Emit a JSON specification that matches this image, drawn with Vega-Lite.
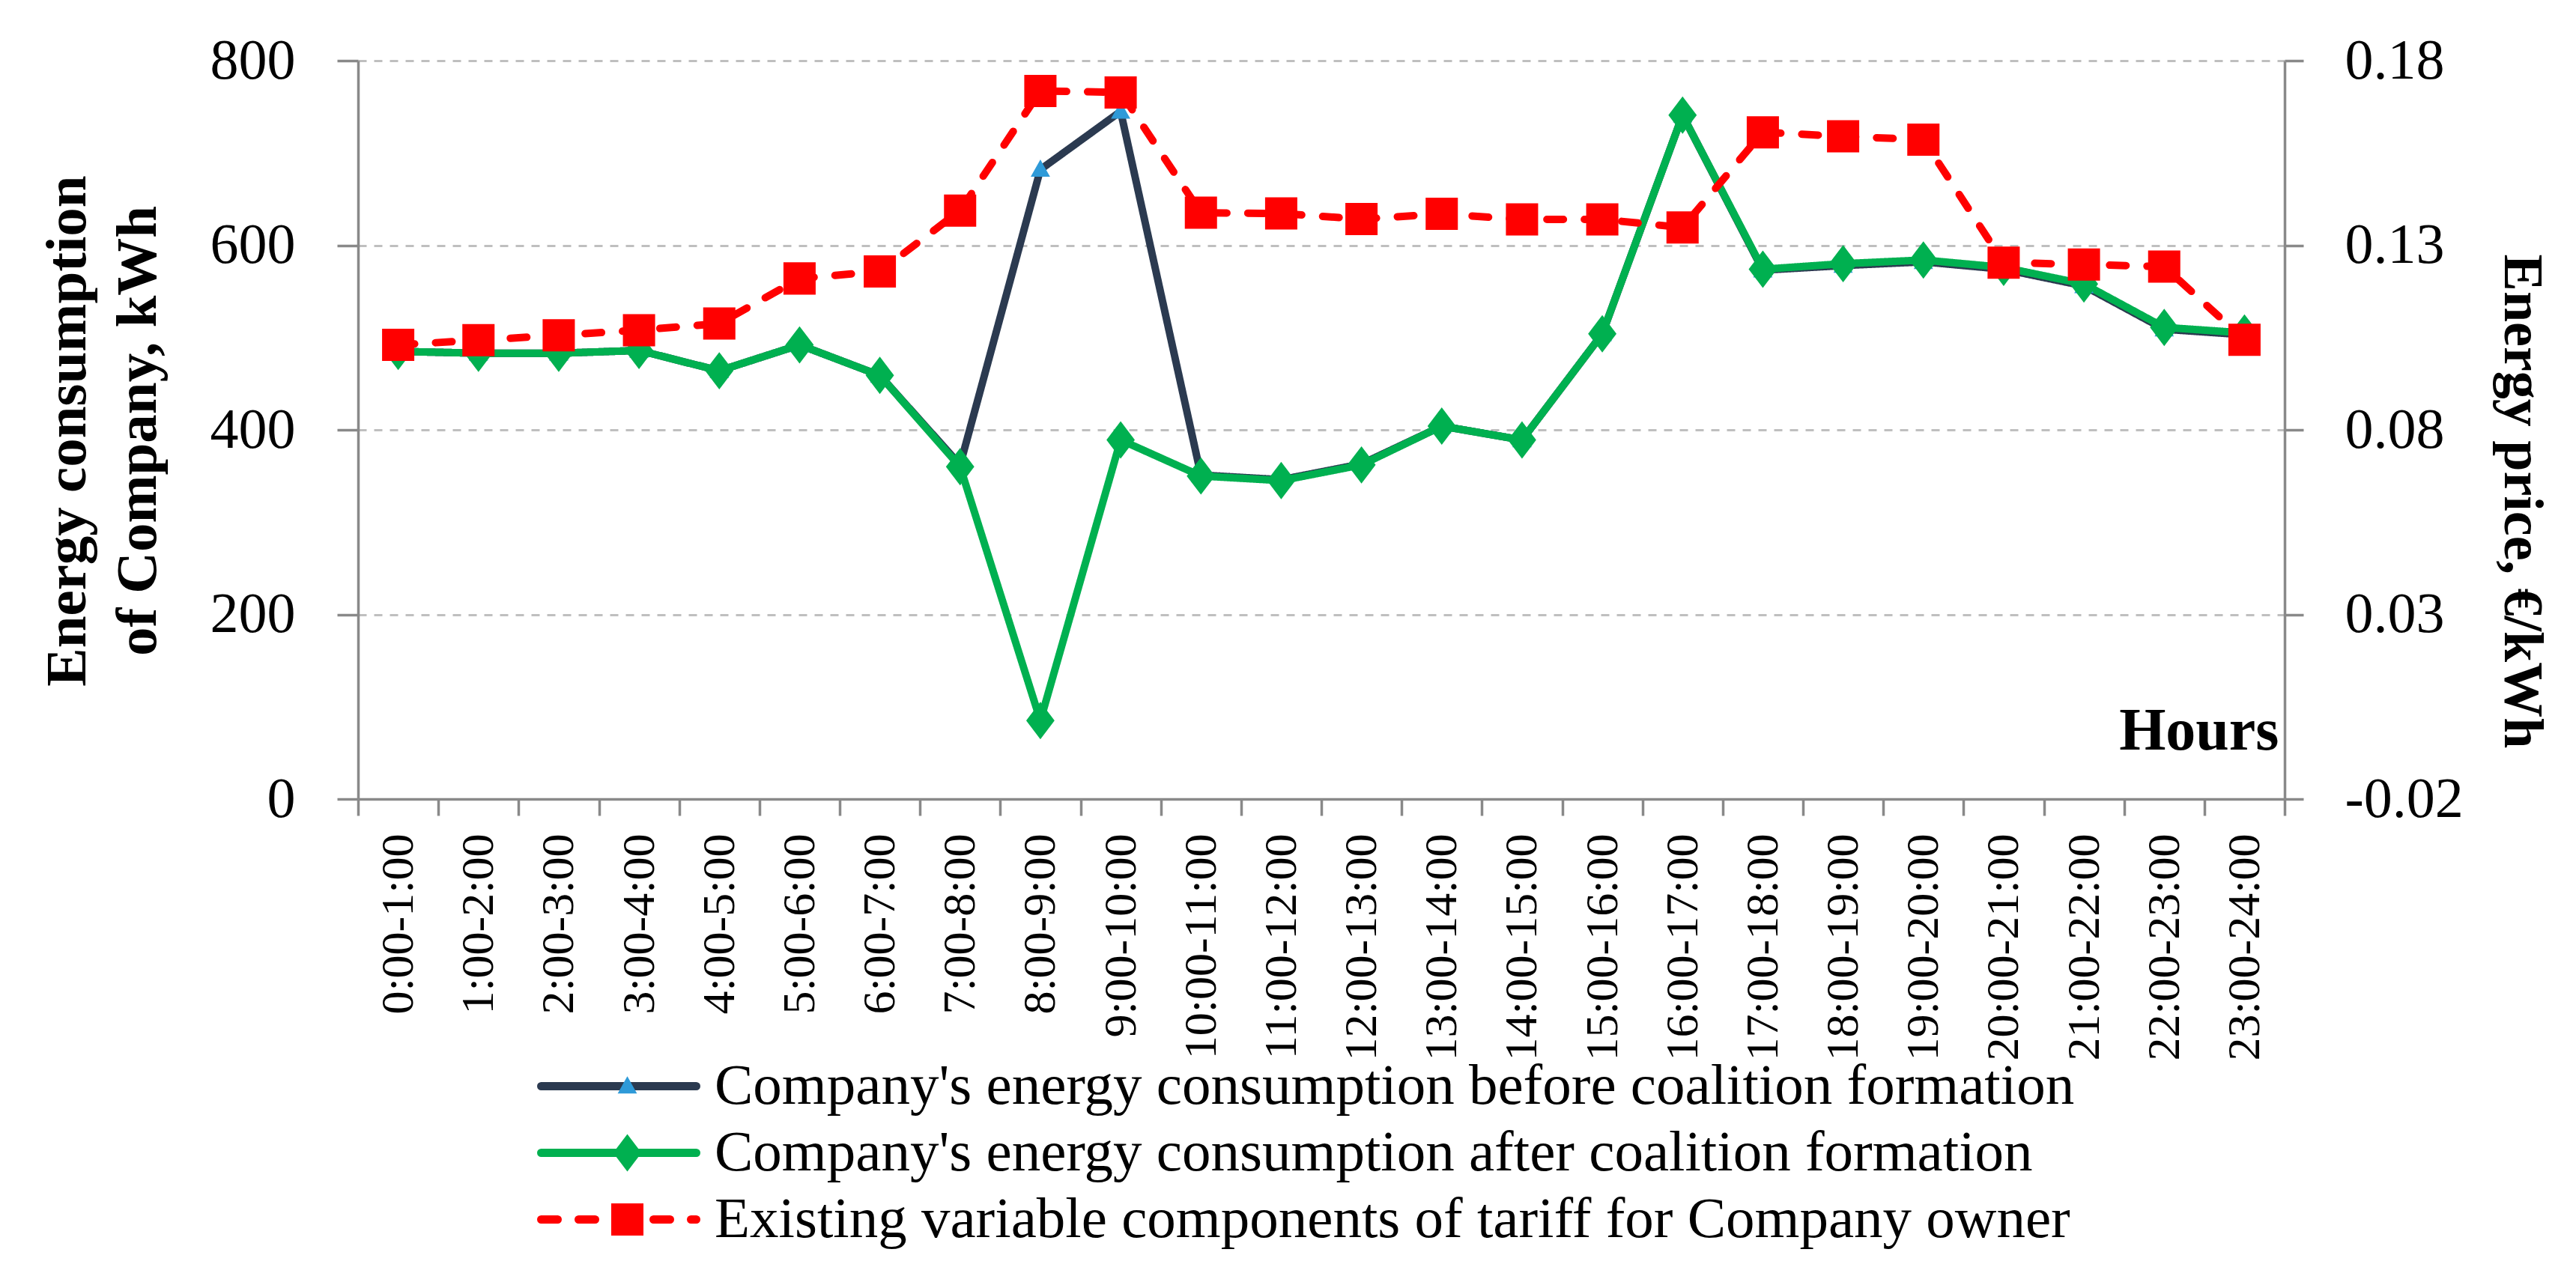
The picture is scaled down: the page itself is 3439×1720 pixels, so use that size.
{
  "$schema": "https://vega.github.io/schema/vega-lite/v6.json",
  "autosize": "none",
  "width": 2572,
  "height": 986,
  "padding": {"left": 478, "top": 81, "right": 389, "bottom": 653},
  "background": "white",
  "config": {
    "font": "Liberation Serif",
    "view": {"stroke": null},
    "axis": {"labelColor": "#000000", "titleColor": "#000000", "domainColor": "#898989", "domainWidth": 3.5, "tickColor": "#898989", "tickWidth": 3.5}
  },
  "data": {"values": [
    {"h": "0:00-1:00", "s": "s1", "v": 485}, {"h": "1:00-2:00", "s": "s1", "v": 483}, {"h": "2:00-3:00", "s": "s1", "v": 483}, {"h": "3:00-4:00", "s": "s1", "v": 486},
    {"h": "4:00-5:00", "s": "s1", "v": 464}, {"h": "5:00-6:00", "s": "s1", "v": 492}, {"h": "6:00-7:00", "s": "s1", "v": 459}, {"h": "7:00-8:00", "s": "s1", "v": 362},
    {"h": "8:00-9:00", "s": "s1", "v": 682}, {"h": "9:00-10:00", "s": "s1", "v": 745}, {"h": "10:00-11:00", "s": "s1", "v": 351}, {"h": "11:00-12:00", "s": "s1", "v": 346},
    {"h": "12:00-13:00", "s": "s1", "v": 363}, {"h": "13:00-14:00", "s": "s1", "v": 404}, {"h": "14:00-15:00", "s": "s1", "v": 389}, {"h": "15:00-16:00", "s": "s1", "v": 504},
    {"h": "16:00-17:00", "s": "s1", "v": 741}, {"h": "17:00-18:00", "s": "s1", "v": 573}, {"h": "18:00-19:00", "s": "s1", "v": 578}, {"h": "19:00-20:00", "s": "s1", "v": 582},
    {"h": "20:00-21:00", "s": "s1", "v": 574}, {"h": "21:00-22:00", "s": "s1", "v": 556}, {"h": "22:00-23:00", "s": "s1", "v": 509}, {"h": "23:00-24:00", "s": "s1", "v": 503},
    {"h": "0:00-1:00", "s": "s2", "v": 485}, {"h": "1:00-2:00", "s": "s2", "v": 483}, {"h": "2:00-3:00", "s": "s2", "v": 483}, {"h": "3:00-4:00", "s": "s2", "v": 486},
    {"h": "4:00-5:00", "s": "s2", "v": 464}, {"h": "5:00-6:00", "s": "s2", "v": 492}, {"h": "6:00-7:00", "s": "s2", "v": 459}, {"h": "7:00-8:00", "s": "s2", "v": 360},
    {"h": "8:00-9:00", "s": "s2", "v": 85}, {"h": "9:00-10:00", "s": "s2", "v": 389}, {"h": "10:00-11:00", "s": "s2", "v": 350}, {"h": "11:00-12:00", "s": "s2", "v": 345},
    {"h": "12:00-13:00", "s": "s2", "v": 362}, {"h": "13:00-14:00", "s": "s2", "v": 404}, {"h": "14:00-15:00", "s": "s2", "v": 389}, {"h": "15:00-16:00", "s": "s2", "v": 504},
    {"h": "16:00-17:00", "s": "s2", "v": 741}, {"h": "17:00-18:00", "s": "s2", "v": 574}, {"h": "18:00-19:00", "s": "s2", "v": 580}, {"h": "19:00-20:00", "s": "s2", "v": 584},
    {"h": "20:00-21:00", "s": "s2", "v": 576}, {"h": "21:00-22:00", "s": "s2", "v": 558}, {"h": "22:00-23:00", "s": "s2", "v": 511}, {"h": "23:00-24:00", "s": "s2", "v": 505},
    {"h": "0:00-1:00", "s": "s3", "v": 0.1030}, {"h": "1:00-2:00", "s": "s3", "v": 0.1043}, {"h": "2:00-3:00", "s": "s3", "v": 0.1056}, {"h": "3:00-4:00", "s": "s3", "v": 0.1070},
    {"h": "4:00-5:00", "s": "s3", "v": 0.1088}, {"h": "5:00-6:00", "s": "s3", "v": 0.1210}, {"h": "6:00-7:00", "s": "s3", "v": 0.1229}, {"h": "7:00-8:00", "s": "s3", "v": 0.1394},
    {"h": "8:00-9:00", "s": "s3", "v": 0.1718}, {"h": "9:00-10:00", "s": "s3", "v": 0.1714}, {"h": "10:00-11:00", "s": "s3", "v": 0.1388}, {"h": "11:00-12:00", "s": "s3", "v": 0.1386},
    {"h": "12:00-13:00", "s": "s3", "v": 0.1371}, {"h": "13:00-14:00", "s": "s3", "v": 0.1385}, {"h": "14:00-15:00", "s": "s3", "v": 0.1370}, {"h": "15:00-16:00", "s": "s3", "v": 0.1370},
    {"h": "16:00-17:00", "s": "s3", "v": 0.1348}, {"h": "17:00-18:00", "s": "s3", "v": 0.1606}, {"h": "18:00-19:00", "s": "s3", "v": 0.1595}, {"h": "19:00-20:00", "s": "s3", "v": 0.1586},
    {"h": "20:00-21:00", "s": "s3", "v": 0.1253}, {"h": "21:00-22:00", "s": "s3", "v": 0.1248}, {"h": "22:00-23:00", "s": "s3", "v": 0.1242}, {"h": "23:00-24:00", "s": "s3", "v": 0.1044}
  ]},
  "encoding": {
    "x": {
      "field": "h", "type": "nominal", "sort": null,
      "scale": {"type": "band", "paddingInner": 0, "paddingOuter": 0},
      "axis": {
        "title": "Hours", "titleFont": "Liberation Serif", "titleFontWeight": "bold", "titleFontSize": 80,
        "titleX": 2564, "titleY": -67, "titleAlign": "right", "titleBaseline": "alphabetic", "titleAnchor": "end",
        "labelAngle": -90, "labelFontSize": 62, "labelPadding": 24, "labelLimit": 0, "tickSize": 22, "tickBand": "extent",
        "grid": false, "labelFont": "Liberation Serif"
      }
    }
  },
  "layer": [
    {
      "transform": [{"filter": "datum.s != 's3'"}],
      "encoding": {
        "y": {
          "field": "v", "type": "quantitative",
          "scale": {"domain": [0, 800], "nice": false},
          "axis": {
            "orient": "left", "values": [0, 200, 400, 600, 800],
            "title": ["Energy consumption", "of Company, kWh"],
            "titleFont": "Liberation Serif", "titleFontWeight": "bold", "titleFontSize": 77, "titleLineHeight": 94,
            "titleAngle": -90, "titleX": -365, "titleY": 494, "titleBaseline": "alphabetic", "titleAlign": "center",
            "labelFont": "Liberation Serif", "labelFontSize": 76, "tickSize": 28, "labelPadding": 56,
            "grid": true, "gridDash": [11, 10], "gridColor": "#BFBFBF", "gridWidth": 3
          }
        }
      },
      "layer": [
        {
          "mark": {"type": "line", "strokeWidth": 10, "strokeCap": "round", "strokeJoin": "round"},
          "encoding": {
            "stroke": {"field": "s", "type": "nominal",
              "scale": {"domain": ["s1", "s2", "s3"], "range": ["#2B3A50", "#00B050", "#FF0000"]},
              "legend": {"title": null, "orient": "none", "legendX": 239, "legendY": 1325, "symbolType": "stroke", "symbolSize": 42849, "symbolStrokeWidth": 11, "labelFont": "Liberation Serif", "labelFontSize": 77, "labelColor": "#000000", "labelOffset": 19, "labelLimit": 0, "clipHeight": 89, "rowPadding": 0, "padding": 0, "direction": "vertical",
                "encode": {"symbols": {"update": {"strokeWidth": {"value": 11}, "strokeCap": {"value": "round"}}}},
                "labelExpr": "datum.label == 's1' ? \"Company's energy consumption before coalition formation\" : datum.label == 's2' ? \"Company's energy consumption after coalition formation\" : 'Existing variable components of tariff  for Company owner'"}},
            "strokeDash": {"field": "s", "type": "nominal",
              "scale": {"domain": ["s1", "s2", "s3"], "range": [[1, 0], [1, 0], [22, 28]]},
              "legend": {"title": null, "orient": "none", "legendX": 239, "legendY": 1325, "symbolType": "stroke", "symbolSize": 42849, "symbolStrokeWidth": 11, "labelFont": "Liberation Serif", "labelFontSize": 77, "labelColor": "#000000", "labelOffset": 19, "labelLimit": 0, "clipHeight": 89, "rowPadding": 0, "padding": 0, "direction": "vertical",
                "encode": {"symbols": {"update": {"strokeWidth": {"value": 11}, "strokeCap": {"value": "round"}}}},
                "labelExpr": "datum.label == 's1' ? \"Company's energy consumption before coalition formation\" : datum.label == 's2' ? \"Company's energy consumption after coalition formation\" : 'Existing variable components of tariff  for Company owner'"}}
          }
        },
        {
          "mark": {"type": "point", "filled": true, "size": 1850, "opacity": 1, "strokeWidth": 0},
          "encoding": {
            "fill": {"field": "s", "type": "nominal",
              "scale": {"range": ["#2E9AD8", "#00B050", "#FF0000"]},
              "legend": {"title": null, "orient": "none", "legendX": 321, "legendY": 1325, "symbolSize": 1850, "symbolStrokeWidth": 0, "labelFontSize": 77, "labelOpacity": 0, "labelLimit": 0, "clipHeight": 89, "rowPadding": 0, "padding": 0, "direction": "vertical"}},
            "shape": {"field": "s", "type": "nominal",
              "scale": {"range": ["M0,-0.62L0.6,0.45L-0.6,0.45Z", "M0,-1.16L0.88,0L0,1.16L-0.88,0Z", "M-1,-1L1,-1L1,1L-1,1Z"]},
              "legend": {"title": null, "orient": "none", "legendX": 321, "legendY": 1325, "symbolSize": 1850, "symbolStrokeWidth": 0, "labelFontSize": 77, "labelOpacity": 0, "labelLimit": 0, "clipHeight": 89, "rowPadding": 0, "padding": 0, "direction": "vertical"}}
          }
        }
      ]
    },
    {
      "transform": [{"filter": "datum.s == 's3'"}],
      "encoding": {
        "y": {
          "field": "v", "type": "quantitative",
          "scale": {"domain": [-0.02, 0.18], "nice": false, "zero": false},
          "axis": {
            "orient": "right", "values": [-0.02, 0.03, 0.08, 0.13, 0.18],
            "labelExpr": "datum.value < 0 ? '-' + format(-datum.value, '.2f') : format(datum.value, '.2f')",
            "title": "Energy price, €/kWh",
            "titleFont": "Liberation Serif", "titleFontWeight": "bold", "titleFontSize": 74,
            "titleAngle": 90, "titleX": 293, "titleY": 588, "titleBaseline": "alphabetic", "titleAlign": "center",
            "labelFont": "Liberation Serif", "labelFontSize": 76, "tickSize": 25, "labelPadding": 55,
            "grid": false
          }
        }
      },
      "layer": [
        {
          "mark": {"type": "line", "strokeWidth": 10, "strokeCap": "round", "strokeJoin": "round"},
          "encoding": {
            "stroke": {"field": "s", "type": "nominal",
              "scale": {"domain": ["s1", "s2", "s3"], "range": ["#2B3A50", "#00B050", "#FF0000"]},
              "legend": {"title": null, "orient": "none", "legendX": 239, "legendY": 1325, "symbolType": "stroke", "symbolSize": 42849, "symbolStrokeWidth": 11, "labelFont": "Liberation Serif", "labelFontSize": 77, "labelColor": "#000000", "labelOffset": 19, "labelLimit": 0, "clipHeight": 89, "rowPadding": 0, "padding": 0, "direction": "vertical",
                "encode": {"symbols": {"update": {"strokeWidth": {"value": 11}, "strokeCap": {"value": "round"}}}},
                "labelExpr": "datum.label == 's1' ? \"Company's energy consumption before coalition formation\" : datum.label == 's2' ? \"Company's energy consumption after coalition formation\" : 'Existing variable components of tariff  for Company owner'"}},
            "strokeDash": {"field": "s", "type": "nominal",
              "scale": {"domain": ["s1", "s2", "s3"], "range": [[1, 0], [1, 0], [22, 28]]},
              "legend": {"title": null, "orient": "none", "legendX": 239, "legendY": 1325, "symbolType": "stroke", "symbolSize": 42849, "symbolStrokeWidth": 11, "labelFont": "Liberation Serif", "labelFontSize": 77, "labelColor": "#000000", "labelOffset": 19, "labelLimit": 0, "clipHeight": 89, "rowPadding": 0, "padding": 0, "direction": "vertical",
                "encode": {"symbols": {"update": {"strokeWidth": {"value": 11}, "strokeCap": {"value": "round"}}}},
                "labelExpr": "datum.label == 's1' ? \"Company's energy consumption before coalition formation\" : datum.label == 's2' ? \"Company's energy consumption after coalition formation\" : 'Existing variable components of tariff  for Company owner'"}}
          }
        },
        {
          "mark": {"type": "point", "filled": true, "size": 1850, "opacity": 1, "strokeWidth": 0},
          "encoding": {
            "fill": {"field": "s", "type": "nominal",
              "scale": {"range": ["#2E9AD8", "#00B050", "#FF0000"]},
              "legend": {"title": null, "orient": "none", "legendX": 321, "legendY": 1325, "symbolSize": 1850, "symbolStrokeWidth": 0, "labelFontSize": 77, "labelOpacity": 0, "labelLimit": 0, "clipHeight": 89, "rowPadding": 0, "padding": 0, "direction": "vertical"}},
            "shape": {"field": "s", "type": "nominal",
              "scale": {"range": ["M0,-0.62L0.6,0.45L-0.6,0.45Z", "M0,-1.16L0.88,0L0,1.16L-0.88,0Z", "M-1,-1L1,-1L1,1L-1,1Z"]},
              "legend": {"title": null, "orient": "none", "legendX": 321, "legendY": 1325, "symbolSize": 1850, "symbolStrokeWidth": 0, "labelFontSize": 77, "labelOpacity": 0, "labelLimit": 0, "clipHeight": 89, "rowPadding": 0, "padding": 0, "direction": "vertical"}}
          }
        }
      ]
    }
  ],
  "resolve": {"scale": {"y": "independent"}}
}
